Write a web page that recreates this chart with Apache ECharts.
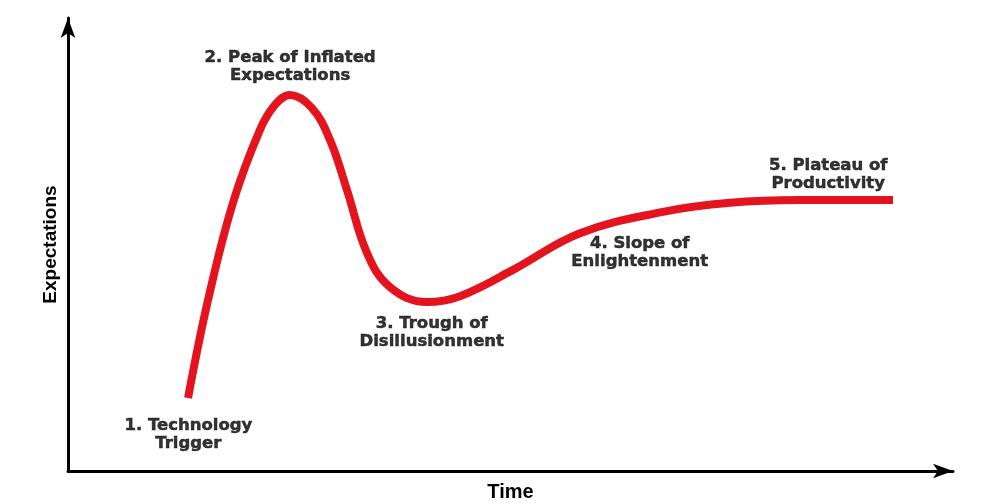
<!DOCTYPE html>
<html>
<head>
<meta charset="utf-8">
<script src="https://cdn.jsdelivr.net/npm/echarts@6/dist/echarts.min.js"></script>
<style>
html,body{margin:0;padding:0;background:#fff;}
#chart{width:994px;height:504px;}
</style>
</head>
<body>
<div id="chart"></div>
<script>
// Hype cycle curve: time (0-100) vs expectations (0-100)
const curveTime = [13.56, 15.82, 18.64, 21.69, 23.39, 25.08, 27.57, 29.60, 31.53, 33.79, 36.38, 40.56, 44.29, 50.28, 57.85, 67.23, 74.80, 82.71, 93.22];
const curveExpect = [16.1, 37.7, 59.2, 75.3, 80.8, 83.0, 80.1, 73.1, 62.0, 48.1, 40.6, 37.3, 38.6, 44.4, 52.5, 57.2, 59.2, 59.8, 59.8];

// Phase labels and their anchor points (time, expectations)
const phaseNames = ["1. Technology\nTrigger", "2. Peak of Inflated\nExpectations", "3. Trough of\nDisillusionment", "4. Slope of\nEnlightenment", "5. Plateau of\nProductivity"];
const phaseTime = [13.6, 25.1, 41.1, 64.6, 85.9];
const phaseExpect = [7.9, 89.3, 30.6, 48.1, 65.4];

const xName = "Time";
const yName = "Expectations";

const chart = echarts.init(document.getElementById('chart'), null, {renderer: 'canvas'});
const labelFont = {fontFamily: 'DejaVu Sans', fontWeight: 'bold', fontSize: 16.5, color: '#000', lineHeight: 18, align: 'center', textBorderColor: '#000', textBorderWidth: 0.5};

chart.setOption({
  animation: false,
  backgroundColor: '#fff',
  grid: {left: 68, right: 41, top: 18, bottom: 33, containLabel: false, outerBoundsMode: 'none'},
  xAxis: {
    type: 'value', min: 0, max: 100,
    name: xName, nameLocation: 'middle', nameGap: 11,
    nameTextStyle: {fontFamily: 'Liberation Sans', fontWeight: 'bold', fontSize: 20, color: '#000'},
    axisLine: {show: true, symbol: ['none', 'arrow'], symbolSize: [11, 20], lineStyle: {color: '#000', width: 3}},
    axisTick: {show: false}, axisLabel: {show: false}, splitLine: {show: false}
  },
  yAxis: {
    type: 'value', min: 0, max: 100,
    name: yName, nameLocation: 'middle', nameGap: 8, nameRotate: 90,
    nameTextStyle: {fontFamily: 'Liberation Sans', fontWeight: 'bold', fontSize: 19, color: '#000'},
    axisLine: {show: true, onZero: false, symbol: ['none', 'arrow'], symbolSize: [11, 20], lineStyle: {color: '#000', width: 3}},
    axisTick: {show: false}, axisLabel: {show: false}, splitLine: {show: false}
  },
  series: [
    {
      type: 'line',
      data: curveTime.map((t, i) => [t, curveExpect[i]]),
      smooth: 0.4,
      showSymbol: false,
      lineStyle: {color: '#e3141e', width: 8, cap: 'butt'},
      z: 3
    },
    {
      type: 'scatter',
      data: phaseTime.map((t, i) => ({value: [t, phaseExpect[i]], name: phaseNames[i]})),
      symbolSize: 0,
      label: Object.assign({show: true, position: 'inside', formatter: p => p.name}, labelFont),
      z: 4
    }
  ]
});
</script>
</body>
</html>
